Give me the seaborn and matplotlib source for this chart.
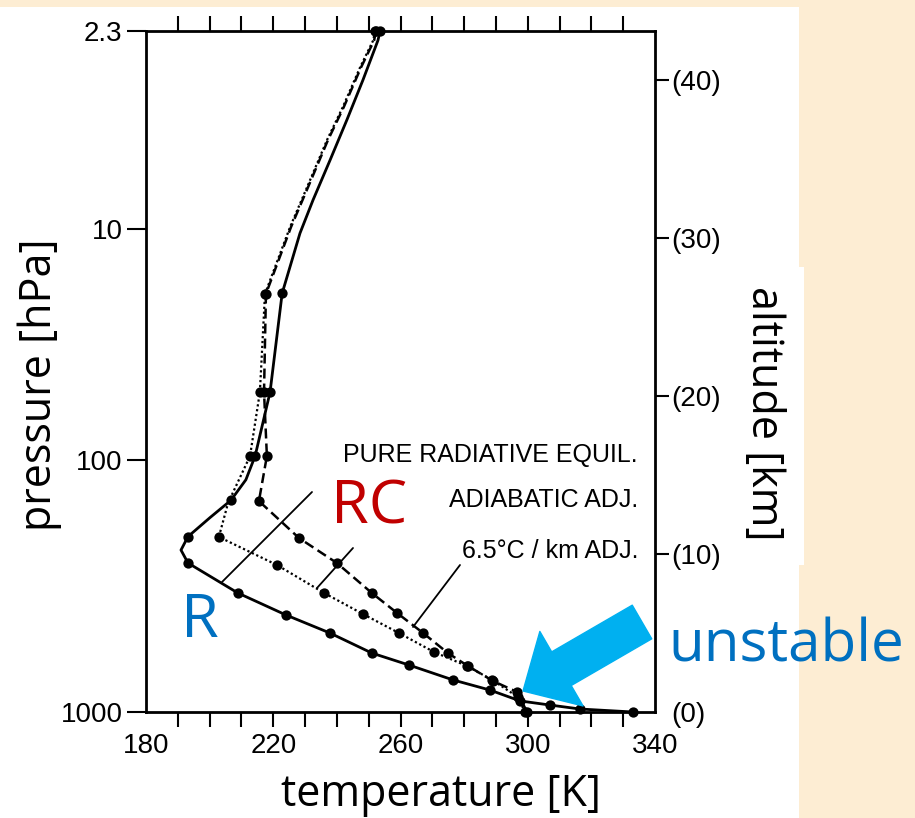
import numpy as np
import pandas as pd
import matplotlib
matplotlib.use("Agg")
import matplotlib.pyplot as plt
import seaborn as sns
from matplotlib.patches import Rectangle

# ---------------- data (temperature [K] vs altitude [km]) ----------------
# Pure radiative equilibrium (solid)
r_temp = [253.6, 252.9, 248.2, 243.2, 237.8, 232.5, 228.4, 222.8, 219.0, 214.3, 211.4,
          206.7, 200.1, 193.2, 191.0, 193.2, 208.9, 224.0, 237.8, 251.0, 262.7, 276.5,
          288.1, 297.6, 307.0, 316.4, 333.1]
r_alt = [43.1, 42.5, 40.0, 37.5, 34.9, 32.4, 30.3, 26.5, 20.25, 16.2, 14.7,
         13.4, 12.3, 11.1, 10.25, 9.43, 7.53, 6.14, 5.0, 3.73, 2.97, 2.03,
         1.39, 0.70, 0.44, 0.19, 0.0]
r_mark = [1, 0, 0, 0, 0, 0, 0, 1, 1, 1, 0,
          1, 0, 1, 0, 1, 1, 1, 1, 1, 1, 1,
          1, 1, 1, 1, 1]

# Dry adiabatic adjustment (dotted)
a_temp = [252.0, 251.4, 247.3, 241.9, 236.9, 230.6, 225.3, 217.4, 215.8, 212.7, 205.8,
          202.9, 221.2, 236.0, 248.2, 259.5, 270.5, 280.9, 288.8, 296.9, 299.1]
a_alt = [43.1, 42.5, 40.8, 38.3, 36.2, 33.2, 30.7, 26.46, 20.25, 16.2, 13.23,
         11.08, 9.30, 7.53, 6.20, 5.00, 3.80, 2.91, 2.03, 0.95, 0.0]
a_mark = [1, 0, 0, 0, 0, 0, 0, 1, 1, 1, 0,
          1, 1, 1, 1, 1, 1, 1, 1, 1, 1]

# 6.5 C/km adjustment (dashed)
m_temp = [252.3, 251.7, 247.6, 242.2, 237.2, 230.9, 225.6, 217.7, 217.1, 218.0, 215.5,
          228.1, 240.0, 251.0, 258.9, 267.1, 274.9, 281.2, 289.1, 296.6, 299.8]
m_alt = [43.1, 42.5, 40.8, 38.3, 36.2, 33.2, 30.7, 26.46, 20.25, 16.2, 13.35,
         11.01, 9.43, 7.53, 6.27, 5.00, 3.73, 2.91, 1.96, 1.27, 0.0]
m_mark = [1, 0, 0, 0, 0, 0, 0, 1, 1, 1, 1,
          1, 1, 1, 1, 1, 1, 1, 1, 1, 1]

# axes ticks / labels
temp_ticks = list(range(180, 341, 10))
temp_labels = ["180", "", "", "", "220", "", "", "", "260", "", "", "", "300", "", "", "", "340"]
pressure_labels = ["1000", "100", "10", "2.3"]
pressure_alt = [0.0, 15.95, 30.6, 43.1]
alt_ticks = [0, 10, 20, 30, 40]
alt_labels = ["(0)", "(10)", "(20)", "(30)", "(40)"]

curve_names = ["PURE RADIATIVE EQUIL.", "ADIABATIC ADJ.", "6.5°C / km ADJ."]

# ---------------- figure ----------------
sns.set_theme(style="white")
plt.rcParams["font.family"] = ["Liberation Sans", "DejaVu Sans"]

W, H = 915, 818
CREAM = "#FDEDD3"
fig = plt.figure(figsize=(W / 100, H / 100), dpi=100, facecolor=CREAM)


def fx(x):
    return x / W


def fy(y):
    return 1 - y / H


# white "scan" area and white box behind the altitude label
fig.patches.append(Rectangle((0, 0), 799 / W, 1 - 7 / H, transform=fig.transFigure,
                             facecolor="white", edgecolor="none", zorder=-2))
fig.patches.append(Rectangle((fx(733), fy(565)), (804 - 733) / W, (565 - 267) / H,
                             transform=fig.transFigure, facecolor="white",
                             edgecolor="none", zorder=-2))

ax = fig.add_axes([146 / W, 1 - 712 / H, 509 / W, 681 / H])
ax.set_facecolor("white")

df_r = pd.DataFrame({"T": r_temp, "z": r_alt, "m": np.array(r_mark, bool)})
df_a = pd.DataFrame({"T": a_temp, "z": a_alt, "m": np.array(a_mark, bool)})
df_m = pd.DataFrame({"T": m_temp, "z": m_alt, "m": np.array(m_mark, bool)})

sns.lineplot(data=df_r, x="T", y="z", sort=False, estimator=None, color="black",
             lw=2.0, ax=ax)
sns.lineplot(data=df_a, x="T", y="z", sort=False, estimator=None, color="black",
             lw=1.6, ls=(0, (1, 1.2)), ax=ax)
sns.lineplot(data=df_m, x="T", y="z", sort=False, estimator=None, color="black",
             lw=1.8, ls=(0, (4, 2)), ax=ax)
for d in (df_r, df_a, df_m):
    sns.scatterplot(data=d[d["m"]], x="T", y="z", color="black", s=55,
                    edgecolor="black", linewidth=0, ax=ax, zorder=3, clip_on=False)

ax.set_xlim(180, 340)
ax.set_ylim(0, 43.1)

for s in ax.spines.values():
    s.set_visible(True)
    s.set_color("black")
    s.set_linewidth(2)

ax.set_xticks(temp_ticks)
ax.set_xticklabels(temp_labels)
ax.tick_params(axis="x", direction="out", length=11, width=1.5, top=True, bottom=True,
               labeltop=False, labelsize=20, pad=4, colors="black")
xt = ax.xaxis.get_major_ticks()
for t in (xt[0], xt[-1]):
    t.tick1line.set_visible(False)
    t.tick2line.set_visible(False)

ax.set_yticks(pressure_alt)
ax.set_yticklabels(pressure_labels)
ax.tick_params(axis="y", direction="out", length=14, width=1.5, left=True, right=False,
               labelsize=20, pad=3, colors="black")
yt = ax.yaxis.get_major_ticks()
yt[0].tick1line.set_visible(False)
yt[-1].tick1line.set_visible(False)

ax2 = ax.twinx()
ax2.set_ylim(0, 43.1)
ax2.set_yticks(alt_ticks)
ax2.set_yticklabels(alt_labels)
ax2.tick_params(axis="y", direction="out", length=10, width=1.5, right=True,
                labelsize=20, pad=2, colors="black")
ax2.yaxis.get_major_ticks()[0].tick2line.set_visible(False)
for s in ax2.spines.values():
    s.set_visible(False)

LABEL_FONT = ["Open Sans", "DejaVu Sans"]
ax.set_xlabel("temperature [K]", fontsize=31, family=LABEL_FONT, color="black", va="center")
ax.xaxis.set_label_coords((441 - 146) / 509, (712 - 795) / 681)
ax.set_ylabel("pressure [hPa]", fontsize=31, family=LABEL_FONT, color="black", va="center")
ax.yaxis.set_label_coords((40 - 146) / 509, (712 - 385) / 681)
ax2.set_ylabel("altitude [km]", fontsize=31, family=LABEL_FONT, color="black",
               rotation=-90, va="center")
ax2.yaxis.set_label_coords((763 - 146) / 509, (712 - 413) / 681)

# curve names
for name, ypix in zip(curve_names, [455, 500, 551]):
    ax.annotate(name, xy=(638, H - ypix), xycoords="figure pixels", ha="right",
                va="center", fontsize=18, color="black", annotation_clip=False)

# leader lines
for (x0, y0), (x1, y1) in [((312, 492), (222, 582)),
                           ((353, 548), (317, 588)),
                           ((460, 565), (413, 627))]:
    ax.annotate("", xy=(x1, H - y1), xytext=(x0, H - y0), xycoords="figure pixels",
                textcoords="figure pixels", annotation_clip=False,
                arrowprops=dict(arrowstyle="-", color="black", lw=1.3,
                                shrinkA=0, shrinkB=0))

# white box behind "RC"
fig.patches.append(Rectangle((fx(314), fy(546)), (430 - 314) / W, (546 - 466) / H,
                             transform=fig.transFigure, facecolor="white",
                             edgecolor="none", zorder=5))

fig.text(fx(369), fy(523), "RC", fontsize=44, family=LABEL_FONT, color="#C00000",
         ha="center", va="baseline", zorder=6)
fig.text(fx(200), fy(637), "R", fontsize=44, family=LABEL_FONT, color="#0070C0",
         ha="center", va="baseline", zorder=6)
fig.text(fx(668), fy(662), "unstable", fontsize=42, family=LABEL_FONT, color="#0070C0",
         ha="left", va="baseline", zorder=6)

# big cyan arrow
ax.annotate("", xy=(523, H - 691), xytext=(642, H - 622), xycoords="figure pixels",
            textcoords="figure pixels", annotation_clip=False,
            arrowprops=dict(arrowstyle="simple,head_length=3.2,head_width=6.2,tail_width=2.8",
                            mutation_scale=10, color="#00B0F0", shrinkA=0, shrinkB=0))

fig.savefig("out.png", dpi=100, facecolor=CREAM)
